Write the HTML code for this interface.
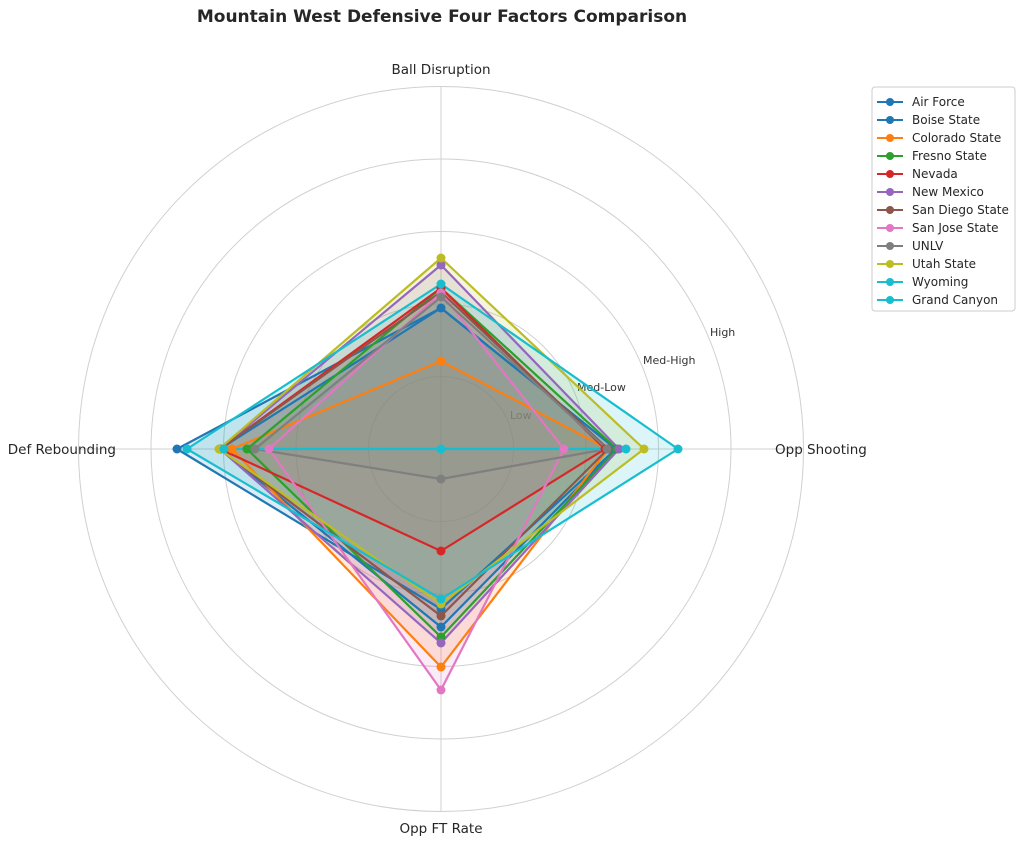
<!DOCTYPE html>
<html><head><meta charset="utf-8"><style>body{margin:0;background:#fff}svg{display:block;font-family:"DejaVu Sans","Liberation Sans",sans-serif}</style></head><body>
<svg width="1024" height="844" viewBox="0 0 1024 844" xmlns="http://www.w3.org/2000/svg">
<rect width="1024" height="844" fill="#fff"/>
<text x="442" y="22" text-anchor="middle" font-size="17" font-weight="bold" fill="#262626">Mountain West Defensive Four Factors Comparison</text>
<g fill="none" stroke="#d0d0d0" stroke-width="1">
<circle cx="441" cy="449" r="72.5"/><circle cx="441" cy="449" r="145"/><circle cx="441" cy="449" r="217.5"/><circle cx="441" cy="449" r="290"/><circle cx="441" cy="449" r="362.5"/>
<line x1="441" y1="86" x2="441" y2="812"/><line x1="78" y1="449" x2="804" y2="449"/>
</g>
<g font-size="11" fill="#333">
<text x="510" y="419" fill="#555">Low</text><text x="577" y="391">Med-Low</text><text x="643" y="364">Med-High</text><text x="710" y="336">High</text>
</g>
<g font-size="13.5" fill="#262626">
<text x="441" y="74" text-anchor="middle">Ball Disruption</text>
<text x="775" y="454">Opp Shooting</text>
<text x="441" y="833" text-anchor="middle">Opp FT Rate</text>
<text x="116" y="454" text-anchor="end">Def Rebounding</text>
</g>
<g stroke="none" fill-opacity="0.15">
<polygon points="441,308 616,449 441,609 177,449" fill="#1f77b4"/>
<polygon points="441,308 616,449 441,627 220,449" fill="#1f77b4"/>
<polygon points="441,361 608,449 441,667 232,449" fill="#ff7f0e"/>
<polygon points="441,288 617,449 441,637 247,449" fill="#2ca02c"/>
<polygon points="441,288 605,449 441,551 220,449" fill="#d62728"/>
<polygon points="441,265 619,449 441,643 220,449" fill="#9467bd"/>
<polygon points="441,292 608,449 441,616 220,449" fill="#8c564b"/>
<polygon points="441,293 564,449 441,690 269,449" fill="#e377c2"/>
<polygon points="441,297 607,449 441,479 255,449" fill="#7f7f7f"/>
<polygon points="441,258 644,449 441,604 219,449" fill="#bcbd22"/>
<polygon points="441,284 678,449 441,599 187,449" fill="#17becf"/>
</g>
<g fill="none" stroke-width="2.2" stroke-linejoin="round">
<polygon points="441,308 616,449 441,609 177,449" stroke="#1f77b4"/>
<polygon points="441,308 616,449 441,627 220,449" stroke="#1f77b4"/>
<polygon points="441,361 608,449 441,667 232,449" stroke="#ff7f0e"/>
<polygon points="441,288 617,449 441,637 247,449" stroke="#2ca02c"/>
<polygon points="441,288 605,449 441,551 220,449" stroke="#d62728"/>
<polygon points="441,265 619,449 441,643 220,449" stroke="#9467bd"/>
<polygon points="441,292 608,449 441,616 220,449" stroke="#8c564b"/>
<polygon points="441,293 564,449 441,690 269,449" stroke="#e377c2"/>
<polygon points="441,297 607,449 441,479 255,449" stroke="#7f7f7f"/>
<polygon points="441,258 644,449 441,604 219,449" stroke="#bcbd22"/>
<polygon points="441,449 626,449 441,449 224,449" stroke="#17becf"/>
<polygon points="441,284 678,449 441,599 187,449" stroke="#17becf"/>
</g>
<g>
<g fill="#1f77b4"><circle cx="441" cy="308" r="4.5"/><circle cx="616" cy="449" r="4.5"/><circle cx="441" cy="609" r="4.5"/><circle cx="177" cy="449" r="4.5"/><circle cx="441" cy="627" r="4.5"/><circle cx="220" cy="449" r="4.5"/></g>
<g fill="#ff7f0e"><circle cx="441" cy="361" r="4.5"/><circle cx="608" cy="449" r="4.5"/><circle cx="441" cy="667" r="4.5"/><circle cx="232" cy="449" r="4.5"/></g>
<g fill="#2ca02c"><circle cx="441" cy="288" r="4.5"/><circle cx="617" cy="449" r="4.5"/><circle cx="441" cy="637" r="4.5"/><circle cx="247" cy="449" r="4.5"/></g>
<g fill="#d62728"><circle cx="441" cy="288" r="4.5"/><circle cx="605" cy="449" r="4.5"/><circle cx="441" cy="551" r="4.5"/><circle cx="220" cy="449" r="4.5"/></g>
<g fill="#9467bd"><circle cx="441" cy="265" r="4.5"/><circle cx="619" cy="449" r="4.5"/><circle cx="441" cy="643" r="4.5"/><circle cx="220" cy="449" r="4.5"/></g>
<g fill="#8c564b"><circle cx="441" cy="292" r="4.5"/><circle cx="608" cy="449" r="4.5"/><circle cx="441" cy="616" r="4.5"/><circle cx="220" cy="449" r="4.5"/></g>
<g fill="#e377c2"><circle cx="441" cy="293" r="4.5"/><circle cx="564" cy="449" r="4.5"/><circle cx="441" cy="690" r="4.5"/><circle cx="269" cy="449" r="4.5"/></g>
<g fill="#7f7f7f"><circle cx="441" cy="297" r="4.5"/><circle cx="607" cy="449" r="4.5"/><circle cx="441" cy="479" r="4.5"/><circle cx="255" cy="449" r="4.5"/></g>
<g fill="#bcbd22"><circle cx="441" cy="258" r="4.5"/><circle cx="644" cy="449" r="4.5"/><circle cx="441" cy="604" r="4.5"/><circle cx="219" cy="449" r="4.5"/></g>
<g fill="#17becf"><circle cx="441" cy="449" r="4.5"/><circle cx="626" cy="449" r="4.5"/><circle cx="224" cy="449" r="4.5"/><circle cx="441" cy="284" r="4.5"/><circle cx="678" cy="449" r="4.5"/><circle cx="441" cy="599" r="4.5"/><circle cx="187" cy="449" r="4.5"/></g>
</g>
<rect x="872" y="87" width="143" height="224" rx="3" fill="#fff" stroke="#ccc" stroke-width="1"/>
<g stroke-width="2">
<line x1="877" y1="102" x2="903" y2="102" stroke="#1f77b4"/><line x1="877" y1="120" x2="903" y2="120" stroke="#1f77b4"/>
<line x1="877" y1="138" x2="903" y2="138" stroke="#ff7f0e"/><line x1="877" y1="156" x2="903" y2="156" stroke="#2ca02c"/>
<line x1="877" y1="174" x2="903" y2="174" stroke="#d62728"/><line x1="877" y1="192" x2="903" y2="192" stroke="#9467bd"/>
<line x1="877" y1="210" x2="903" y2="210" stroke="#8c564b"/><line x1="877" y1="228" x2="903" y2="228" stroke="#e377c2"/>
<line x1="877" y1="246" x2="903" y2="246" stroke="#7f7f7f"/><line x1="877" y1="264" x2="903" y2="264" stroke="#bcbd22"/>
<line x1="877" y1="282" x2="903" y2="282" stroke="#17becf"/><line x1="877" y1="300" x2="903" y2="300" stroke="#17becf"/>
</g>
<g>
<circle cx="890" cy="102" r="4" fill="#1f77b4"/><circle cx="890" cy="120" r="4" fill="#1f77b4"/>
<circle cx="890" cy="138" r="4" fill="#ff7f0e"/><circle cx="890" cy="156" r="4" fill="#2ca02c"/>
<circle cx="890" cy="174" r="4" fill="#d62728"/><circle cx="890" cy="192" r="4" fill="#9467bd"/>
<circle cx="890" cy="210" r="4" fill="#8c564b"/><circle cx="890" cy="228" r="4" fill="#e377c2"/>
<circle cx="890" cy="246" r="4" fill="#7f7f7f"/><circle cx="890" cy="264" r="4" fill="#bcbd22"/>
<circle cx="890" cy="282" r="4" fill="#17becf"/><circle cx="890" cy="300" r="4" fill="#17becf"/>
</g>
<g font-size="12" fill="#262626">
<text x="912" y="106">Air Force</text><text x="912" y="124">Boise State</text><text x="912" y="142">Colorado State</text>
<text x="912" y="160">Fresno State</text><text x="912" y="178">Nevada</text><text x="912" y="196">New Mexico</text>
<text x="912" y="214">San Diego State</text><text x="912" y="232">San Jose State</text><text x="912" y="250">UNLV</text>
<text x="912" y="268">Utah State</text><text x="912" y="286">Wyoming</text><text x="912" y="304">Grand Canyon</text>
</g>
</svg>
</body></html>
